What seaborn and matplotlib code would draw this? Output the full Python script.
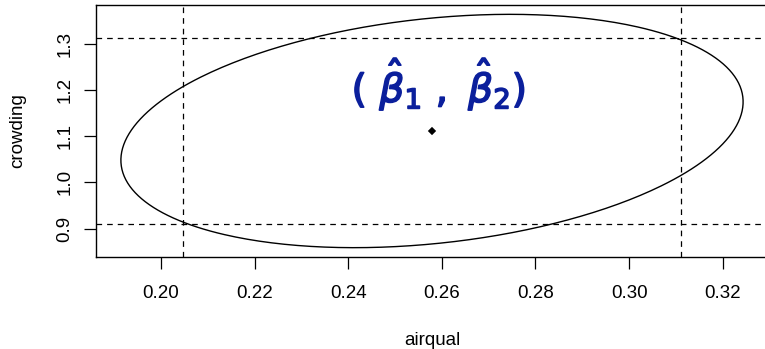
import numpy as np
import pandas as pd
import matplotlib
matplotlib.use("Agg")
import matplotlib.pyplot as plt
import matplotlib.patheffects as pe
import seaborn as sns

# --- data ---
coef_names = ["airqual", "crowding"]
estimates = [0.2579, 1.1112]          # (beta1_hat, beta2_hat)
std_errors = [0.02714, 0.10316]
correlation = 0.25
z_individual = 1.96                   # individual 95% intervals
z_joint = 2.4477                      # joint 95% region (sqrt chi2_2)
x_ticks = [0.20, 0.22, 0.24, 0.26, 0.28, 0.30, 0.32]
y_ticks = [0.9, 1.0, 1.1, 1.2, 1.3]
annotation = r"$(\ \hat{\beta}_1\ ,\ \hat{\beta}_2)$"

# ellipse (ellipse-package parametrisation)
t = np.linspace(0, 2 * np.pi, 400)
d = np.arccos(correlation)
ell = pd.DataFrame({
    "x": estimates[0] + z_joint * std_errors[0] * np.cos(t + d / 2),
    "y": estimates[1] + z_joint * std_errors[1] * np.cos(t - d / 2),
})
ci_x = [estimates[0] - z_individual * std_errors[0], estimates[0] + z_individual * std_errors[0]]
ci_y = [estimates[1] - z_individual * std_errors[1], estimates[1] + z_individual * std_errors[1]]

sns.set_style("ticks")
plt.rcParams["font.family"] = ["Liberation Sans", "DejaVu Sans"]

W, H = 765, 349
fig = plt.figure(figsize=(W / 100, H / 100), dpi=100)
ax = fig.add_axes([96 / W, (H - 257) / H, 672 / W, 252 / H])

sns.lineplot(data=ell, x="x", y="y", sort=False, estimator=None, color="black", lw=1.0, ax=ax)
pt = pd.DataFrame({"x": [estimates[0]], "y": [estimates[1]]})
sns.scatterplot(data=pt, x="x", y="y", marker="D", s=18, color="black", edgecolor="none", ax=ax)

for v in ci_x:
    ax.axvline(v, color="black", lw=0.9, dashes=(4.5, 4))
for v in ci_y:
    ax.axhline(v, color="black", lw=0.9, dashes=(4.5, 4))

xr = ell["x"].max() - ell["x"].min()
yr = ell["y"].max() - ell["y"].min()
ax.set_xlim(ell["x"].min() - 0.04 * xr, ell["x"].max() + 0.04 * xr)
ax.set_ylim(ell["y"].min() - 0.04 * yr, ell["y"].max() + 0.04 * yr)

ax.set_xticks(x_ticks)
ax.set_xticklabels([f"{v:.2f}" for v in x_ticks])
ax.set_yticks(y_ticks)
ax.set_yticklabels([f"{v:.1f}" for v in y_ticks], rotation=90, va="center")
ax.tick_params(axis="both", direction="out", length=8.3, width=0.9, color="black",
               labelsize=13.5, labelcolor="black")
ax.tick_params(axis="x", pad=11.5)
ax.tick_params(axis="y", pad=8)

for s in ax.spines.values():
    s.set_color("black")
    s.set_linewidth(1.0)

ax.set_xlabel("airqual", fontsize=13.5, color="black", labelpad=22)
ax.set_ylabel("crowding", fontsize=13.5, color="black", labelpad=22)

ax.text(0.2593, 1.212, annotation, fontsize=28, color="#0b1f9c", ha="center", va="center",
        path_effects=[pe.withStroke(linewidth=1.2, foreground="#0b1f9c")])

fig.savefig("out.png", dpi=100)
